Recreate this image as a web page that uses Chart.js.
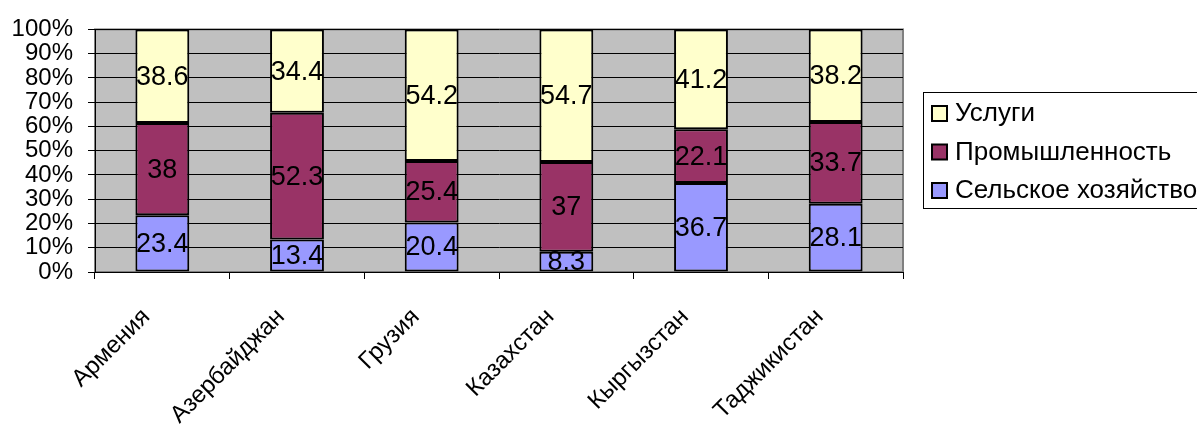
<!DOCTYPE html>
<html>
<head>
<meta charset="utf-8">
<script src="https://cdn.jsdelivr.net/npm/chart.js@4/dist/chart.umd.min.js"></script>
<style>
  html, body { margin: 0; padding: 0; background: #ffffff; }
  #wrap { width: 1197px; height: 424px; position: relative; overflow: hidden; }
</style>
</head>
<body>
<div id="wrap"><canvas id="c" width="1197" height="424"></canvas></div>
<script>
const categories = ['Армения', 'Азербайджан', 'Грузия', 'Казахстан', 'Кыргызстан', 'Таджикистан'];
const agriculture = [23.4, 13.4, 20.4, 8.3, 36.7, 28.1];
const industry = [38, 52.3, 25.4, 37, 22.1, 33.7];
const services = [38.6, 34.4, 54.2, 54.7, 41.2, 38.2];
const seriesNames = ['Сельское хозяйство', 'Промышленность', 'Услуги'];
const seriesColors = ['#9999FF', '#993366', '#FFFFCC'];
const yTickValues = [0, 10, 20, 30, 40, 50, 60, 70, 80, 90, 100];

const FONT = "'Liberation Sans', Arial, sans-serif";
const rawSeries = [agriculture, industry, services];
const totals = categories.map((_, i) => rawSeries.reduce((s, arr) => s + arr[i], 0));
const shares = rawSeries.map(arr => arr.map((v, i) => v / totals[i] * 100));

const plotBg = {
  id: 'plotBg',
  beforeDraw(chart) {
    const { ctx, chartArea: a } = chart;
    ctx.save();
    ctx.fillStyle = '#C0C0C0';
    ctx.fillRect(a.left, a.top, a.right - a.left, a.bottom - a.top);
    ctx.strokeStyle = '#808080';
    ctx.lineWidth = 2;
    ctx.strokeRect(a.left, a.top, a.right - a.left, a.bottom - a.top);
    ctx.restore();
  }
};

const dataLabels = {
  id: 'dataLabels',
  afterDatasetsDraw(chart) {
    const { ctx } = chart;
    ctx.save();
    ctx.font = '27px ' + FONT;
    ctx.fillStyle = '#000';
    ctx.textAlign = 'center';
    ctx.textBaseline = 'middle';
    chart.data.datasets.forEach((ds, di) => {
      const meta = chart.getDatasetMeta(di);
      meta.data.forEach((bar, i) => {
        const v = ds.raw[i];
        ctx.fillText(String(v), bar.x, (bar.y + bar.base) / 2 + 1);
      });
    });
    ctx.restore();
  }
};

const boxLegend = {
  id: 'boxLegend',
  afterDraw(chart) {
    const { ctx } = chart;
    const x = 923.5, y = 92.5, w = 300, h = 116;
    ctx.save();
    ctx.fillStyle = '#fff';
    ctx.fillRect(x, y, w, h);
    ctx.strokeStyle = '#000';
    ctx.lineWidth = 1;
    ctx.strokeRect(x, y, w, h);
    ctx.font = '26px ' + FONT;
    ctx.textBaseline = 'middle';
    ctx.textAlign = 'left';
    const order = [2, 1, 0];
    order.forEach((di, k) => {
      const ds = chart.data.datasets[di];
      const cy = 113 + k * 38.5;
      ctx.fillStyle = ds.backgroundColor;
      ctx.fillRect(932, cy - 7, 15, 15);
      ctx.strokeStyle = '#000';
      ctx.lineWidth = 2;
      ctx.strokeRect(932, cy - 7, 15, 15);
      ctx.fillStyle = '#000';
      ctx.fillText(ds.label, 955, cy + 1);
    });
    ctx.restore();
  }
};

new Chart(document.getElementById('c'), {
  type: 'bar',
  data: {
    labels: categories,
    datasets: shares.map((arr, k) => ({
      label: seriesNames[k],
      data: arr,
      raw: rawSeries[k],
      backgroundColor: seriesColors[k],
      borderColor: '#000',
      borderWidth: 2,
      borderSkipped: false,
      categoryPercentage: 1,
      barPercentage: 0.4
    }))
  },
  options: {
    responsive: false,
    animation: false,
    devicePixelRatio: 1,
    layout: { padding: { top: 28, right: 294, left: 0, bottom: 0 } },
    plugins: { legend: { display: false }, tooltip: { enabled: false } },
    scales: {
      x: {
        stacked: true,
        grid: { display: true, drawOnChartArea: false, offset: true, tickLength: 7, color: '#000', lineWidth: 1 },
        border: { display: true, color: '#000', width: 1 },
        ticks: {
          font: { family: FONT, size: 24 },
          color: '#000',
          minRotation: 45,
          maxRotation: 45,
          autoSkip: false,
          labelOffset: -16,
          padding: 24
        },
        afterFit(s) { s.height = 152; }
      },
      y: {
        stacked: true,
        min: 0,
        max: 100,
        afterBuildTicks(s) { s.ticks = yTickValues.map(v => ({ value: v })); },
        grid: { color: '#000', lineWidth: 1, tickLength: 7 },
        border: { display: true, color: '#000', width: 1 },
        ticks: {
          font: { family: FONT, size: 24 },
          color: '#000',
          padding: 15,
          autoSkip: false,
          callback: v => v + '%'
        },
        afterFit(s) { s.width = 95; }
      }
    }
  },
  plugins: [plotBg, dataLabels, boxLegend]
});
</script>
</body>
</html>
